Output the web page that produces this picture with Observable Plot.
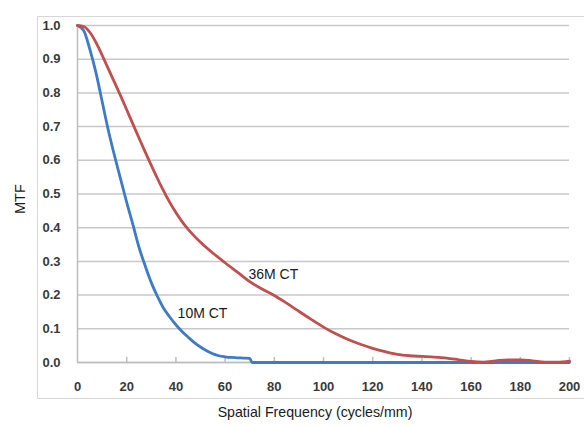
<!DOCTYPE html>
<html>
<head>
<meta charset="utf-8">
<script src="https://cdn.jsdelivr.net/npm/d3@7"></script>
<script src="https://cdn.jsdelivr.net/npm/@observablehq/plot@0.6"></script>
<style>
  html, body { margin: 0; padding: 0; background: #fff; }
  #wrap { position: relative; width: 584px; height: 427px; overflow: hidden; }
  #frame { position: absolute; left: 37px; top: 16px; width: 620px; height: 381px; border: 1px solid #d6d6d6; pointer-events: none; }
</style>
</head>
<body>
<div id="wrap"><div id="frame"></div></div>
<script>
// Series: 36M CT (red)
const freq36 = [0,2.5,5,7.5,10,12.5,15,17.5,20,22.5,25,27.5,30,32.5,35,37.5,40,42.5,45,47.5,50,55,60,65,70,75,80,85,90,95,100,105,110,115,120,125,130,135,140,145,150,155,160,165,170,175,180,185,190,195,200];
const mtf36  = [1.0,0.997,0.98,0.95,0.912,0.872,0.832,0.792,0.75,0.708,0.666,0.625,0.585,0.546,0.509,0.475,0.445,0.418,0.395,0.375,0.357,0.325,0.296,0.268,0.24,0.218,0.199,0.176,0.152,0.128,0.105,0.085,0.068,0.054,0.042,0.032,0.024,0.02,0.018,0.016,0.013,0.008,0.003,0.001,0.005,0.008,0.008,0.005,0.001,0.001,0.004];
// Series: 10M CT (blue)
const freq10 = [0,2.5,5,7.5,10,12.5,15,17.5,20,22.5,25,27.5,30,32.5,35,37.5,40,42.5,45,47.5,50,52.5,55,57.5,60,62.5,65,67.5,70,71,80,100,120,140,160,180,200];
const mtf10  = [1.0,0.985,0.93,0.86,0.775,0.69,0.615,0.545,0.475,0.41,0.342,0.287,0.237,0.196,0.161,0.135,0.112,0.092,0.075,0.059,0.046,0.035,0.026,0.02,0.017,0.015,0.014,0.013,0.012,0,0,0,0,0,0,0,0];
// Tick labels
const xTicks = [0,20,40,60,80,100,120,140,160,180,200];
const yTicks = [0,0.1,0.2,0.3,0.4,0.5,0.6,0.7,0.8,0.9,1.0];
// Curve labels
const labelText = ["36M CT","10M CT"];
const labelX = [69.5, 40.7];
const labelY = [0.262, 0.144];

const red = "#c0504d", blue = "#3d7bc6";
const s36 = freq36.map((f,i)=>({f, m: mtf36[i]}));
const s10 = freq10.map((f,i)=>({f, m: mtf10[i]}));
const labels = labelText.map((t,i)=>({t, x: labelX[i], y: labelY[i]}));

const sans = "'Liberation Sans',Arial,sans-serif";

const chart = Plot.plot({
  width: 584, height: 427,
  marginLeft: 77, marginRight: 15, marginTop: 25, marginBottom: 65,
  style: {background: "transparent", fontFamily: sans},
  x: {domain: [0,200]},
  y: {domain: [0,1]},
  marks: [
    Plot.gridY(yTicks, {stroke: "#c8c8c8", strokeOpacity: 1, strokeWidth: 1.5}),
    Plot.ruleX([0], {stroke: "#bdbdbd", strokeWidth: 1.5}),
    Plot.ruleY([0], {stroke: "#bdbdbd", strokeWidth: 1.5}),
    Plot.ruleX(xTicks.slice(1), {y1: 0, y2: 0.015, stroke: "#bdbdbd", strokeWidth: 1.5}),
    Plot.axisY(yTicks, {tickSize: 0, tickPadding: 17, tickFormat: d3.format(".1f"), label: null, fontSize: 13, fontWeight: "bold", fill: "#3a3a3a"}),
    Plot.axisX(xTicks, {tickSize: 0, tickPadding: 19, label: null, fontSize: 13, fontWeight: "bold", fill: "#3a3a3a"}),
    Plot.line(s10, {x: "f", y: "m", stroke: blue, strokeWidth: 2.8, curve: "monotone-x"}),
    Plot.line(s36, {x: "f", y: "m", stroke: red, strokeWidth: 2.8, curve: "monotone-x"}),
    Plot.text(labels, {x: "x", y: "y", text: "t", textAnchor: "start", fontSize: 14, fill: "#1a1a1a"}),
    Plot.text(["MTF"], {frameAnchor: "left", dx: -57.5, dy: 20, rotate: -90, fontSize: 14.5, fill: "#1a1a1a"}),
    Plot.text(["Spatial Frequency (cycles/mm)"], {frameAnchor: "bottom", dx: -8.5, dy: 54, fontSize: 14.2, fill: "#1a1a1a"})
  ]
});
document.getElementById("wrap").prepend(chart);
</script>
</body>
</html>
